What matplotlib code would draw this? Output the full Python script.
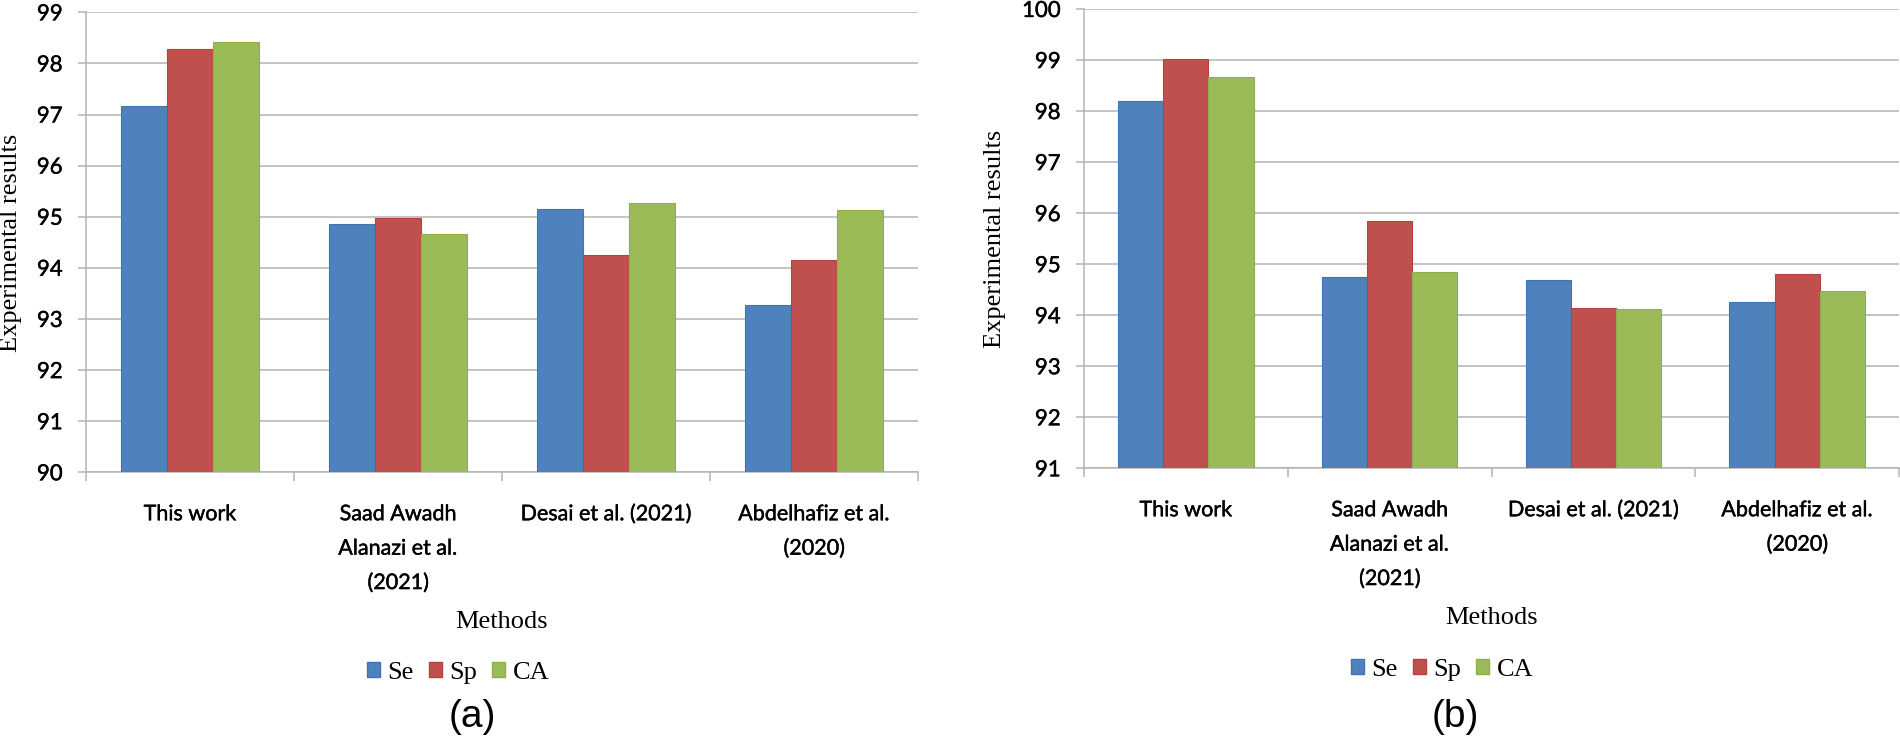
import matplotlib
matplotlib.use("Agg")
import matplotlib.pyplot as plt
import matplotlib.patheffects as pe
from matplotlib.patches import Patch
import numpy as np

categories = ["This work", "Saad Awadh\nAlanazi et al.\n(2021)", "Desai et al. (2021)",
              "Abdelhafiz et al.\n(2020)"]
series = ["Se", "Sp", "CA"]

# panel (a)
a_se = [97.16, 94.86, 95.15, 93.27]
a_sp = [98.28, 94.98, 94.25, 94.15]
a_ca = [98.41, 94.66, 95.27, 95.14]
# panel (b)
b_se = [98.19, 94.74, 94.68, 94.25]
b_sp = [99.03, 95.85, 94.15, 94.80]
b_ca = [98.66, 94.85, 94.13, 94.47]

a_ticks = list(range(90, 100))
b_ticks = list(range(91, 101))

colors = ["#4F81BD", "#C0504D", "#9BBB59"]
edges = ["#3F74B5", "#B8413E", "#8DB04A"]
grid_c = "#B4B4B4"
thick = [pe.withStroke(linewidth=0.3, foreground="black")]

W, H = 1900, 739
fig = plt.figure(figsize=(W / 100, H / 100), dpi=100)

def px_axes(x0, x1, y0, y1):
    return fig.add_axes([x0 / W, 1 - y1 / H, (x1 - x0) / W, (y1 - y0) / H])

def draw(ax, data, yticks):
    x = np.arange(len(categories))
    bw = 0.222
    for k, vals in enumerate(data):
        ax.bar(x + (k - 1) * bw, [v - yticks[0] for v in vals], bw, bottom=yticks[0],
               color=colors[k], edgecolor=edges[k], linewidth=0.8, zorder=3)
    ax.set_ylim(yticks[0], yticks[-1])
    ax.set_xlim(-0.5, len(categories) - 0.5)
    ax.set_yticks(yticks)
    ax.set_yticklabels([str(t) for t in yticks], fontfamily="Lato", fontsize=16)
    ax.yaxis.grid(True, color=grid_c, linewidth=1.1, zorder=0)
    ax.set_axisbelow(True)
    ax.set_xticks(np.arange(len(categories) + 1) - 0.5)
    ax.set_xticklabels([])
    ax.set_xticks(x, categories, minor=True, fontfamily="Lato", fontsize=15.5,
                  linespacing=1.9)
    ax.tick_params(axis="x", which="major", length=6.5, width=1.1, color=grid_c,
                   direction="out")
    ax.tick_params(axis="x", which="minor", length=0, pad=23)
    ax.tick_params(axis="y", length=5.8, width=1.1, color=grid_c, direction="out",
                   pad=11)
    for lab in ax.get_yticklabels() + ax.get_xticklabels(minor=True):
        lab.set_path_effects(thick)
    for s in ["top", "right"]:
        ax.spines[s].set_visible(False)
    for s in ["left", "bottom"]:
        ax.spines[s].set_color(grid_c)
        ax.spines[s].set_linewidth(1.1)

ax1 = px_axes(86, 918, 12.3, 472.3)
draw(ax1, [a_se, a_sp, a_ca], a_ticks)
ax2 = px_axes(1084, 1899, 9, 468.3)
draw(ax2, [b_se, b_sp, b_ca], b_ticks)

serif = "Liberation Serif"
fig.text(11 / W, 1 - 243 / H, "Experimental results", rotation=90, ha="center",
         va="center", fontfamily=serif, fontsize=19)
fig.text(995 / W, 1 - 239 / H, "Experimental results", rotation=90, ha="center",
         va="center", fontfamily=serif, fontsize=19)
fig.text(502 / W, 1 - 621.7 / H, "Methods", ha="center", va="center",
         fontfamily=serif, fontsize=19)
fig.text(1491.5 / W, 1 - 618 / H, "Methods", ha="center", va="center",
         fontfamily=serif, fontsize=19)

handles = [Patch(facecolor=colors[k], edgecolor=edges[k], label=series[k])
           for k in range(3)]
for cx, cy in [(458, 673), (1442, 670)]:
    fig.legend(handles=handles, loc="center", bbox_to_anchor=(cx / W, 1 - cy / H),
               ncol=3, frameon=False, handlelength=0.5, handleheight=0.5,
               handletextpad=0.27, columnspacing=0.58, borderpad=0,
               prop={"family": serif, "size": 19})

fig.text(472 / W, 1 - 716.7 / H, "(a)", ha="center", va="center",
         fontfamily="Liberation Sans", fontsize=28)
fig.text(1455 / W, 1 - 716.7 / H, "(b)", ha="center", va="center",
         fontfamily="Liberation Sans", fontsize=28)

fig.savefig("out.png", dpi=100)
